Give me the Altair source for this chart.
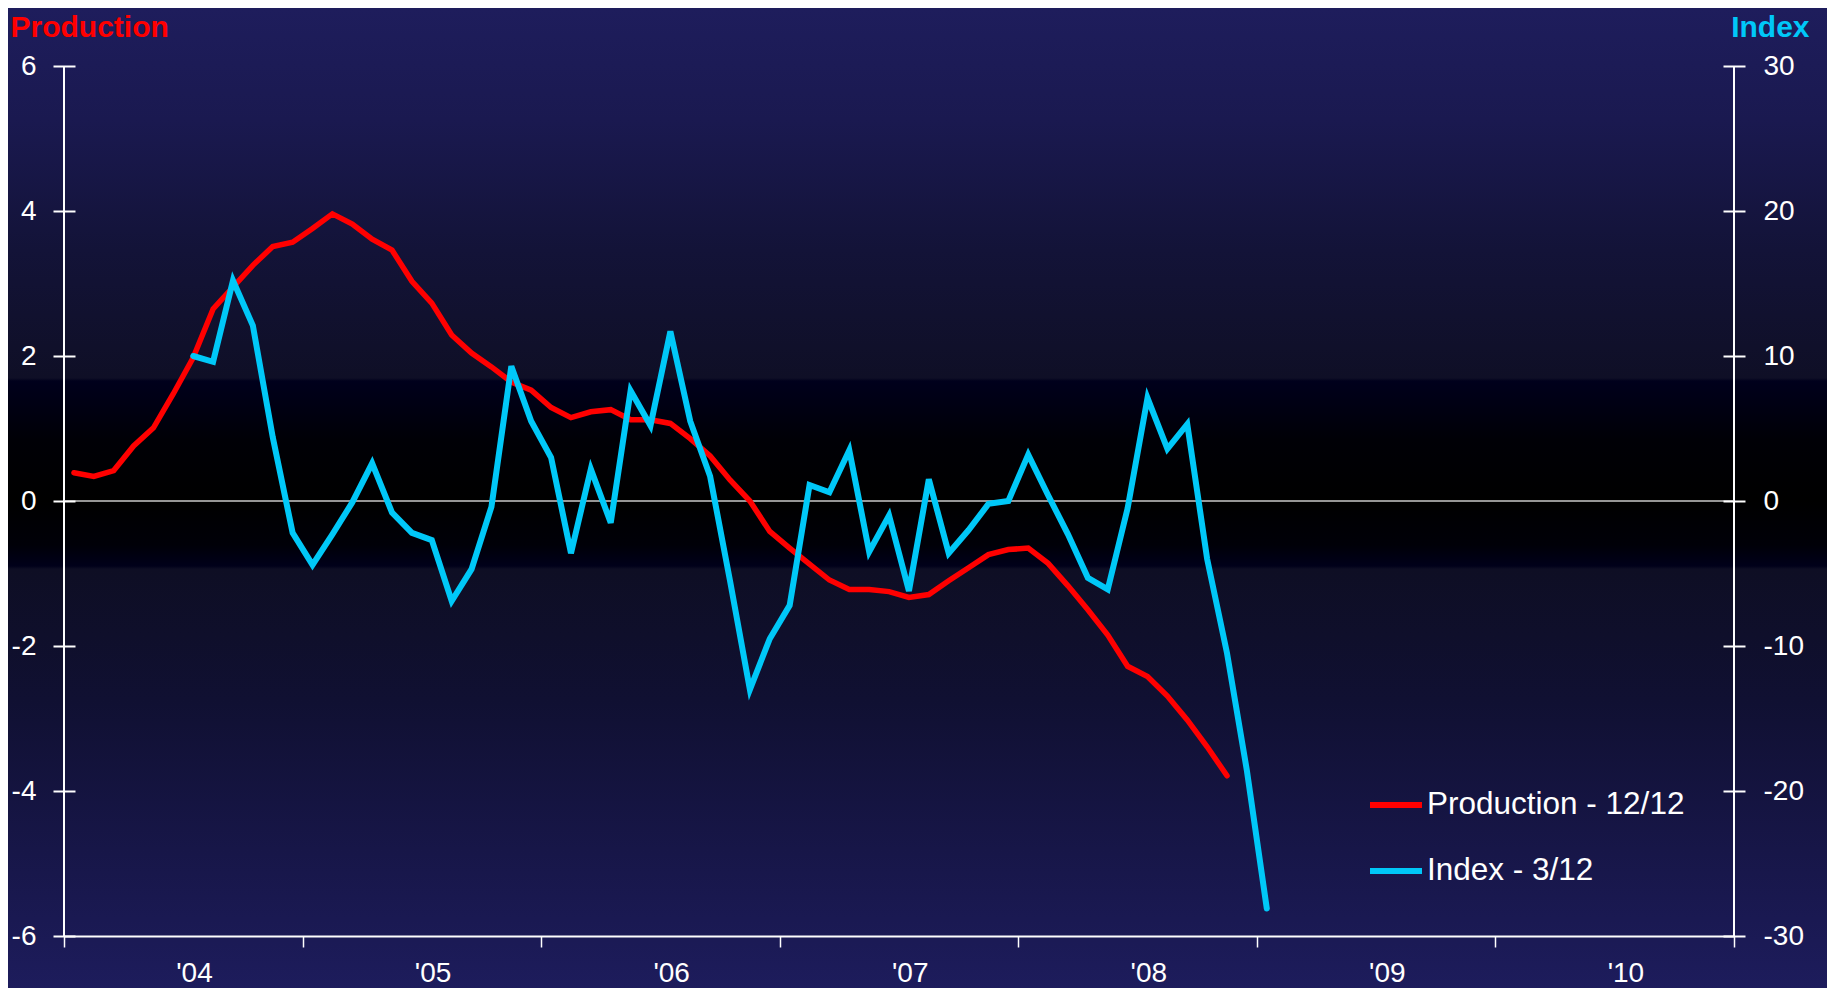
import altair as alt
import pandas as pd

# ---------------- data (monthly, month index 0 = Jan 2004) ----------------
PROD_START = 0
PROD_VALUES = [
    0.39, 0.34, 0.42, 0.76, 1.01, 1.48, 1.98, 2.65, 2.95, 3.25, 3.51, 3.57,
    3.76, 3.96, 3.82, 3.61, 3.46, 3.03, 2.73, 2.29, 2.04, 1.85, 1.64, 1.53,
    1.29, 1.15, 1.23, 1.26, 1.12, 1.12, 1.07, 0.86, 0.62, 0.29, 0.00, -0.42,
    -0.65, -0.87, -1.09, -1.22, -1.22, -1.25, -1.33, -1.29, -1.10, -0.92, -0.74, -0.67,
    -0.65, -0.86, -1.17, -1.50, -1.85, -2.28, -2.42, -2.69, -3.02, -3.39, -3.79,
]
INDEX_START = 6
INDEX_VALUES = [
    10.0, 9.6, 15.2, 12.1, 4.4, -2.2,
    -4.4, -2.3, -0.1, 2.6, -0.8, -2.2, -2.7, -6.9, -4.7, -0.4, 9.3, 5.5,
    3.0, -3.6, 2.2, -1.5, 7.6, 5.2, 11.7, 5.5, 1.7, -5.5, -13.0, -9.5,
    -7.2, 1.1, 0.6, 3.5, -3.5, -1.0, -6.2, 1.5, -3.6, -2.0, -0.2, 0.0,
    3.2, 0.4, -2.3, -5.3, -6.1, -0.5, 7.1, 3.6, 5.3, -4.0, -10.5, -18.6,
    -28.1,
]
SERIES = ["Production - 12/12", "Index - 3/12"]
SERIES_COLORS = ["#ff0000", "#00c8f8"]
YEAR_LABELS = ["'04", "'05", "'06", "'07", "'08", "'09", "'10"]
X_TICKS = [0, 12, 24, 36, 48, 60, 72, 84]
PROD_TICKS = [-6, -4, -2, 0, 2, 4, 6]
INDEX_TICKS = [-30, -20, -10, 0, 10, 20, 30]

prod_df = pd.DataFrame({
    "month": [PROD_START + i + 0.5 for i in range(len(PROD_VALUES))],
    "value": PROD_VALUES,
    "series": SERIES[0],
})
index_df = pd.DataFrame({
    "month": [INDEX_START + i + 0.5 for i in range(len(INDEX_VALUES))],
    "value": INDEX_VALUES,
    "series": SERIES[1],
})
one = pd.DataFrame({"k": [0]})

W, H = 1670, 870
PAD = {"left": 56, "top": 58, "right": 93, "bottom": 52}
FONT = "Liberation Sans"
SVG_H = PAD["top"] + H + PAD["bottom"]

# ---------------- background gradient ----------------
grad_pts = [
    (8, "#1e1d5c"), (120, "#1a1950"), (250, "#131338"), (378, "#0f0f26"),
    (381, "#00001c"), (440, "#000006"), (500, "#000000"), (545, "#000008"),
    (566, "#00001a"), (569, "#0e0e24"), (700, "#101032"), (850, "#171648"),
    (988, "#1d1c5c"),
]
stops = [alt.GradientStop(color=c, offset=max(0.0, min(1.0, (y - 8) / SVG_H)))
         for y, c in grad_pts]
bg = alt.Chart(one).mark_rect(
    fill=alt.LinearGradient(gradient="linear", stops=stops, x1=0, x2=0, y1=0, y2=1),
    strokeWidth=0,
).encode(
    x=alt.value(-PAD["left"]), x2=alt.value(W + PAD["right"]),
    y=alt.value(-PAD["top"]), y2=alt.value(H + PAD["bottom"]),
)

xscale = alt.Scale(domain=[0, 84], nice=False, zero=False)
prod_scale = alt.Scale(domain=[-6, 6], nice=False, zero=False)
idx_scale = alt.Scale(domain=[-30, 30], nice=False, zero=False)
color_scale = alt.Scale(domain=SERIES, range=SERIES_COLORS)

label_expr = f"{YEAR_LABELS}[datum.value / 12] || ''"

x_axis = alt.Axis(
    values=X_TICKS, title=None, grid=False, domain=True, domainColor="white",
    domainWidth=2, ticks=True, tickColor="white", tickSize=11, tickWidth=1.5,
    labelExpr=label_expr, labelColor="white", labelFont=FONT, labelFontSize=28,
    labelOffset=130, labelAlign="center", labelBaseline="alphabetic",
    labelPadding=34, labelOverlap=False, labelFlush=False, labelBound=False,
    zindex=1,
)

legend = alt.Legend(
    title=None, orient="none", legendX=1303, legendY=710, padding=0,
    symbolType="stroke", symbolSize=2704, symbolStrokeWidth=6,
    labelFont=FONT, labelFontSize=31.5, labelColor="white", labelOffset=2,
    rowPadding=21, labelLimit=400,
)

prod_axis = alt.Axis(
    orient="left", offset=-11, values=PROD_TICKS, grid=False, domain=False,
    tickColor="white", tickSize=22, tickWidth=2,
    labelExpr="'' + datum.value",
    labelColor="white", labelFont=FONT, labelFontSize=28, labelPadding=17,
    title="Production", titleColor="#ff0000", titleFont=FONT, titleFontSize=30,
    titleFontWeight="bold", titleAngle=0, titleAlign="left",
    titleBaseline="alphabetic", titleX=-65, titleY=-30, zindex=1,
)
idx_axis = alt.Axis(
    orient="right", offset=-11, values=INDEX_TICKS, grid=False, domain=False,
    tickColor="white", tickSize=22, tickWidth=2,
    labelExpr="'' + datum.value",
    labelColor="white", labelFont=FONT, labelFontSize=28, labelPadding=18,
    title="Index", titleColor="#00c8f8", titleFont=FONT, titleFontSize=30,
    titleFontWeight="bold", titleAngle=0, titleAlign="right",
    titleBaseline="alphabetic", titleX=86, titleY=-30, zindex=1,
)

# rules on production scale: axis lines and zero line
left_line = alt.Chart(one).mark_rule(color="white", strokeWidth=2).encode(
    x=alt.X(datum=0, type="quantitative", scale=xscale, axis=x_axis),
    y=alt.Y(datum=-6, type="quantitative", scale=prod_scale, axis=prod_axis),
    y2=alt.datum(6),
)
right_line = alt.Chart(one).mark_rule(color="white", strokeWidth=2).encode(
    x=alt.datum(84), y=alt.datum(-6), y2=alt.datum(6),
)
zero_line = alt.Chart(one).mark_rule(color="#c8c8c8", strokeWidth=1.5).encode(
    x=alt.datum(0), x2=alt.datum(84), y=alt.datum(0),
)
prod_line = alt.Chart(prod_df).mark_line(strokeWidth=5.5, strokeCap="round").encode(
    x=alt.X("month:Q", scale=xscale, axis=x_axis),
    y=alt.Y("value:Q", scale=prod_scale, axis=prod_axis),
    color=alt.Color("series:N", scale=color_scale, legend=legend, sort=SERIES),
)
prod_layer = alt.layer(left_line, right_line, zero_line, prod_line)

idx_line = alt.Chart(index_df).mark_line(strokeWidth=6, strokeCap="round").encode(
    x=alt.X("month:Q", scale=xscale, axis=x_axis),
    y=alt.Y("value:Q", scale=idx_scale, axis=idx_axis),
    color=alt.Color("series:N", scale=color_scale, legend=legend, sort=SERIES),
)

chart = alt.layer(bg, prod_layer, idx_line).resolve_scale(
    y="independent"
).properties(
    width=W, height=H,
    autosize=alt.AutoSizeParams(type="none"),
    padding=PAD,
    background="#1c1b5a",
).configure_view(stroke=None)

chart.save("out.html", embed_options={"renderer": "svg", "actions": False})
